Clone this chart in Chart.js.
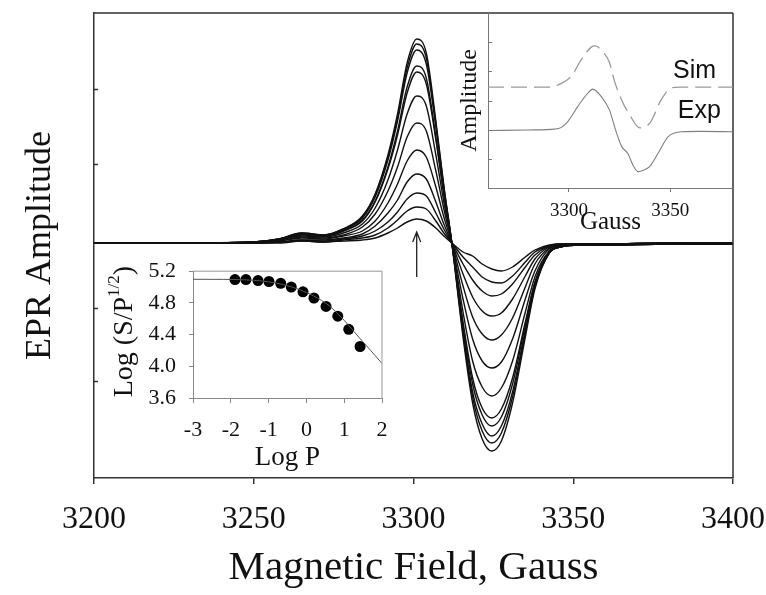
<!DOCTYPE html>
<html>
<head>
<meta charset="utf-8">
<script src="https://cdn.jsdelivr.net/npm/chart.js@4.4.1/dist/chart.umd.min.js"></script>
<style>
  html, body { margin: 0; padding: 0; background: #fff; }
  #wrap { position: relative; width: 766px; height: 595px; overflow: hidden; }
  canvas { position: absolute; }
  #main { left: 0; top: 0; width: 766px; height: 595px; }
  #simexp { left: 440px; top: 0; width: 326px; height: 240px; }
  #power { left: 90px; top: 245px; width: 310px; height: 230px; }
</style>
</head>
<body>
<div id="wrap">
  <canvas id="main" width="766" height="595"></canvas>
  <canvas id="simexp" width="326" height="240"></canvas>
  <canvas id="power" width="310" height="230"></canvas>
</div>
<script>
// main spectra, field in Gauss, amplitude in arbitrary units (baseline 0)
const fieldG = [3200, 3230, 3250, 3258, 3265, 3272, 3278, 3284, 3288, 3292, 3295, 3298, 3301, 3304, 3307, 3309.5, 3312,
                3315.5, 3318.5, 3321.5, 3324.5, 3327.5, 3331, 3335, 3338, 3342.5, 3346, 3352, 3360, 3380, 3400];

const spec1  = [0,0, 0,0,2,1,2,3,5,10,15,21,24,22,15,7,0, -9,-13,-21,-26,-28,-24,-14,-7,-2,-1,-1,-1,0,0];
const spec2  = [0,0, 0,1,2,1,3,5,8,15,23,32,36,34,22,10,0, -14,-24,-34,-39,-40,-33,-19,-9,-3,-1,-1,-1,0,0];
const spec3  = [0,0, 0,1,3,2,4,7,12,21,31,44,50,47,30,14,0, -21,-37,-48,-53,-51,-41,-24,-12,-3,-1,-1,-1,0,0];
const spec4  = [0,0, 0,1,3,3,5,9,17,30,43,61,69,64,41,19,0, -31,-54,-68,-73,-70,-56,-33,-16,-4,-2,-1,-1,0,0];
const spec5  = [0,0, 0,2,5,4,7,12,22,40,59,82,93,86,56,26,0, -43,-74,-91,-97,-92,-75,-44,-21,-5,-2,-1,-1,0,0];
const spec6  = [0,0, 1,2,6,5,8,16,29,52,76,106,120,112,72,34,0, -56,-96,-118,-125,-119,-96,-56,-28,-6,-3,-1,-1,-1,0];
const spec7  = [0,0, 1,3,7,6,10,19,35,63,93,129,147,137,88,41,0, -69,-118,-144,-153,-145,-118,-69,-34,-8,-3,-2,-1,-1,-1];
const spec8  = [0,0, 1,3,8,7,12,22,41,74,108,150,171,159,103,48,0, -79,-135,-165,-175,-166,-135,-79,-39,-9,-4,-2,-2,-1,-1];
const spec9  = [0,0, 1,4,9,7,12,23,42,76,112,156,177,165,106,50,0, -82,-141,-172,-183,-174,-141,-82,-40,-9,-4,-2,-2,-1,-1];
const spec10 = [0,0, 1,4,9,8,13,25,46,83,122,170,193,179,116,54,0, -87,-149,-181,-193,-183,-149,-87,-42,-10,-4,-2,-2,-1,-1];
const spec11 = [0,0, 1,4,10,8,14,26,48,86,125,175,199,185,119,56,0, -90,-154,-188,-200,-190,-154,-90,-44,-10,-4,-2,-2,-1,-1];
const spec12 = [0,0, 1,4,10,8,14,27,49,88,129,180,204,190,122,57,0, -94,-160,-196,-208,-198,-160,-94,-46,-10,-4,-2,-2,-1,-1];
const spectra = [spec1, spec2, spec3, spec4, spec5, spec6, spec7, spec8, spec9, spec10, spec11, spec12];

const fieldTicks = [3200, 3250, 3300, 3350, 3400];
const ampTicks = [154, 79, -65, -138];
const arrowField = 3301;
const arrowSpan = [11, -34];

// inset: simulated vs experimental
const simG = [3260, 3291, 3294.4, 3301, 3306, 3311, 3313, 3316, 3320, 3322.3, 3326, 3330, 3335, 3340, 3345.5, 3350.5, 3355, 3381];
const simAmp = [3.46, 3.46, 3.53, 3.82, 4.39, 4.83, 4.87, 4.72, 4.30, 3.70, 3.02, 2.50, 2.06, 2.23, 3.02, 3.43, 3.46, 3.46];
const expG = [3260, 3280, 3293, 3296, 3299.3, 3304.3, 3309.3, 3311.7, 3316, 3320, 3323, 3326, 3329, 3332, 3334.3, 3337, 3339.8, 3344, 3349, 3355.5, 3365, 3381];
const expAmp = [1.97, 1.99, 2.02, 2.07, 2.27, 2.79, 3.25, 3.39, 3.13, 2.67, 1.99, 1.42, 1.19, 0.73, 0.56, 0.62, 0.73, 1.19, 1.76, 1.93, 1.94, 1.93];
const insetFieldTicks = [3300, 3350];
const insetAmpTicks = [1, 2, 3, 4, 5];
const insetNames = [{text: 'Sim', x: 3362, y: 4.01}, {text: 'Exp', x: 3364.4, y: 2.64}];

// inset: power saturation
const logP = [-1.89, -1.60, -1.28, -0.99, -0.68, -0.40, -0.09, 0.20, 0.52, 0.83, 1.12, 1.42];
const logSP = [5.094, 5.094, 5.082, 5.07, 5.047, 5.0, 4.94, 4.862, 4.756, 4.632, 4.467, 4.25];
const fitP = [-3, -2.2, -1.8, -1.4, -1.0, -0.6, -0.2, 0.2, 0.6, 1.0, 1.4, 1.7, 2.0];
const fitSP = [5.098, 5.097, 5.094, 5.085, 5.066, 5.03, 4.97, 4.885, 4.765, 4.58, 4.36, 4.20, 4.035];
const logPTicks = [-3, -2, -1, 0, 1, 2];
const logSPTicks = [3.6, 4.0, 4.4, 4.8, 5.2];

const tickSets = {main: ampTicks, inset: insetAmpTicks, none: []};

const serif = "'Liberation Serif', 'Times New Roman', serif";
const sans = "'Liberation Sans', Arial, sans-serif";

const fixSize = (w, h) => s => {
  if (w != null) s.width = w;
  if (h != null) s.height = h;
  s.paddingLeft = 0; s.paddingRight = 0;
};
const setTicks = list => s => { s.ticks = list.map(v => ({value: v})); };

// top / right sides of the box and inward y ticks
const boxPlugin = {
  id: 'box',
  afterDraw(chart, args, o) {
    const ctx = chart.ctx, a = chart.chartArea;
    ctx.save();
    ctx.strokeStyle = o.color;
    ctx.lineWidth = o.width;
    ctx.beginPath();
    if (o.top) { ctx.moveTo(a.left, a.top); ctx.lineTo(a.right, a.top); }
    if (o.right) { ctx.moveTo(a.right, a.top); ctx.lineTo(a.right, a.bottom); }
    (tickSets[o.inTicks] || []).forEach(v => {
      const py = Math.round(chart.scales.y.getPixelForValue(v)) + 0.5;
      ctx.moveTo(a.left, py); ctx.lineTo(a.left + o.tickLen, py);
    });
    ctx.stroke();
    ctx.restore();
  }
};

const arrowPlugin = {
  id: 'arrow',
  afterDatasetsDraw(chart) {
    const ctx = chart.ctx, xs = chart.scales.x, ys = chart.scales.y;
    const px = xs.getPixelForValue(arrowField);
    const tip = ys.getPixelForValue(arrowSpan[0]), end = ys.getPixelForValue(arrowSpan[1]);
    ctx.save();
    ctx.strokeStyle = '#222';
    ctx.lineWidth = 1.3;
    ctx.beginPath();
    ctx.moveTo(px, end); ctx.lineTo(px, tip);
    ctx.moveTo(px - 4, tip + 10); ctx.lineTo(px, tip); ctx.lineTo(px + 4, tip + 10);
    ctx.stroke();
    ctx.restore();
  }
};

const namePlugin = {
  id: 'names',
  afterDraw(chart) {
    const ctx = chart.ctx;
    ctx.save();
    ctx.font = '25px ' + sans;
    ctx.fillStyle = '#111';
    ctx.textAlign = 'center';
    ctx.textBaseline = 'middle';
    insetNames.forEach(n => ctx.fillText(n.text, chart.scales.x.getPixelForValue(n.x), chart.scales.y.getPixelForValue(n.y)));
    ctx.restore();
  }
};

// rotated y title with a superscript
const logTitlePlugin = {
  id: 'logTitle',
  afterDraw(chart) {
    const ctx = chart.ctx, a = chart.chartArea;
    const big = '28px ' + serif, small = '17px ' + serif;
    ctx.save();
    ctx.translate(chart.scales.y.left + 33, (a.top + a.bottom) / 2 - 3);
    ctx.rotate(-Math.PI / 2);
    ctx.fillStyle = '#111';
    ctx.textBaseline = 'middle';
    ctx.font = big;
    const w1 = ctx.measureText('Log (S/P').width, w3 = ctx.measureText(')').width;
    ctx.font = small;
    const w2 = ctx.measureText('1/2').width;
    let x = -(w1 + w2 + w3) / 2;
    ctx.font = big; ctx.fillText('Log (S/P', x, 2); x += w1;
    ctx.font = small; ctx.fillText('1/2', x, -8); x += w2;
    ctx.font = big; ctx.fillText(')', x, 2);
    ctx.restore();
  }
};

const createMain = () => {
  const datasets = spectra.map(s => ({
    data: fieldG.map((g, i) => ({x: g, y: s[i]})),
    borderColor: '#111',
    borderWidth: 1.4,
    pointRadius: 0,
    cubicInterpolationMode: 'monotone',
    fill: false
  }));
  new Chart(document.getElementById('main'), {
    type: 'line',
    data: {datasets: datasets},
    plugins: [boxPlugin, arrowPlugin],
    options: {
      responsive: false, animation: false, devicePixelRatio: 1,
      layout: {padding: {left: 0, top: 13, right: 33, bottom: 0}},
      plugins: {
        legend: {display: false}, tooltip: {enabled: false},
        box: {color: '#333', width: 1.5, top: true, right: true, inTicks: 'main', tickLen: 4}
      },
      scales: {
        x: {
          type: 'linear', min: 3200, max: 3400,
          afterBuildTicks: setTicks(fieldTicks),
          afterFit: fixSize(null, 117),
          ticks: {font: {family: serif, size: 32}, color: '#111', padding: 16, maxRotation: 0, callback: v => String(v)},
          grid: {display: true, drawOnChartArea: false, drawTicks: true, tickLength: 6, color: '#333', lineWidth: 1.5},
          border: {display: true, color: '#333', width: 1.5},
          title: {display: true, text: 'Magnetic Field, Gauss', font: {family: serif, size: 41}, color: '#111', padding: {top: 0, bottom: 2}}
        },
        y: {
          min: -235, max: 230,
          afterFit: fixSize(94, null),
          ticks: {display: false},
          grid: {display: false},
          border: {display: true, color: '#333', width: 1.5},
          title: {display: true, text: 'EPR Amplitude', font: {family: serif, size: 36}, color: '#111', padding: {top: 19, bottom: 0}}
        }
      }
    }
  });
};

const createSimExp = () => {
  new Chart(document.getElementById('simexp'), {
    type: 'line',
    data: {datasets: [
      {data: simG.map((g, i) => ({x: g, y: simAmp[i]})), borderColor: '#999', borderWidth: 1.3, borderDash: [16, 7],
       pointRadius: 0, cubicInterpolationMode: 'monotone', fill: false},
      {data: expG.map((g, i) => ({x: g, y: expAmp[i]})), borderColor: '#808080', borderWidth: 1.1,
       pointRadius: 0, cubicInterpolationMode: 'monotone', fill: false}
    ]},
    plugins: [boxPlugin, namePlugin],
    options: {
      responsive: false, animation: false, devicePixelRatio: 1,
      layout: {padding: {left: 0, top: 13, right: 33, bottom: 0}},
      plugins: {
        legend: {display: false}, tooltip: {enabled: false},
        box: {color: '#777', width: 1, inTicks: 'inset', tickLen: 4}
      },
      scales: {
        x: {
          type: 'linear', min: 3260, max: 3381,
          afterBuildTicks: setTicks(insetFieldTicks),
          afterFit: fixSize(null, 52),
          ticks: {font: {family: serif, size: 19}, color: '#111', padding: 8, maxRotation: 0, callback: v => String(v)},
          grid: {display: true, drawOnChartArea: false, drawTicks: true, tickLength: 4, color: '#777'},
          border: {display: true, color: '#777', width: 1},
          title: {display: true, text: 'Gauss', font: {family: serif, size: 25}, color: '#111', padding: {top: 0, bottom: 3}}
        },
        y: {
          min: 0, max: 6,
          afterFit: fixSize(48, null),
          ticks: {display: false},
          grid: {display: false},
          border: {display: true, color: '#777', width: 1},
          title: {display: true, text: 'Amplitude', font: {family: serif, size: 24}, color: '#111', padding: {top: 15, bottom: 0}}
        }
      }
    }
  });
};

const createPower = () => {
  new Chart(document.getElementById('power'), {
    type: 'line',
    data: {datasets: [
      {data: fitP.map((p, i) => ({x: p, y: fitSP[i]})), borderColor: '#555', borderWidth: 1,
       pointRadius: 0, cubicInterpolationMode: 'monotone', fill: false},
      {data: logP.map((p, i) => ({x: p, y: logSP[i]})), showLine: false, pointRadius: 5.5,
       pointBackgroundColor: '#000', pointBorderColor: '#000', pointBorderWidth: 0}
    ]},
    plugins: [boxPlugin, logTitlePlugin],
    options: {
      responsive: false, animation: false, devicePixelRatio: 1,
      layout: {padding: {left: 0, top: 17, right: 18, bottom: 0}},
      plugins: {
        legend: {display: false}, tooltip: {enabled: false},
        box: {color: '#999', width: 1, top: true, right: true, inTicks: 'none'}
      },
      scales: {
        x: {
          type: 'linear', min: -3, max: 2,
          afterBuildTicks: setTicks(logPTicks),
          afterFit: fixSize(null, 77),
          ticks: {font: {family: serif, size: 22}, color: '#111', padding: 14, maxRotation: 0, callback: v => String(v)},
          grid: {display: true, drawOnChartArea: false, drawTicks: true, tickLength: 5, color: '#888'},
          border: {display: true, color: '#888', width: 1},
          title: {display: true, text: 'Log P', font: {family: serif, size: 27}, color: '#111', padding: {top: 0, bottom: 1}}
        },
        y: {
          min: 3.6, max: 5.2,
          afterBuildTicks: setTicks(logSPTicks),
          afterFit: fixSize(103, null),
          ticks: {font: {family: serif, size: 22}, color: '#111', padding: 13, callback: v => v.toFixed(1)},
          grid: {display: true, drawOnChartArea: false, drawTicks: true, tickLength: 4, color: '#888'},
          border: {display: true, color: '#888', width: 1}
        }
      }
    }
  });
};

const main = () => {
  createMain();
  createSimExp();
  createPower();
};

main();
</script>
</body>
</html>
